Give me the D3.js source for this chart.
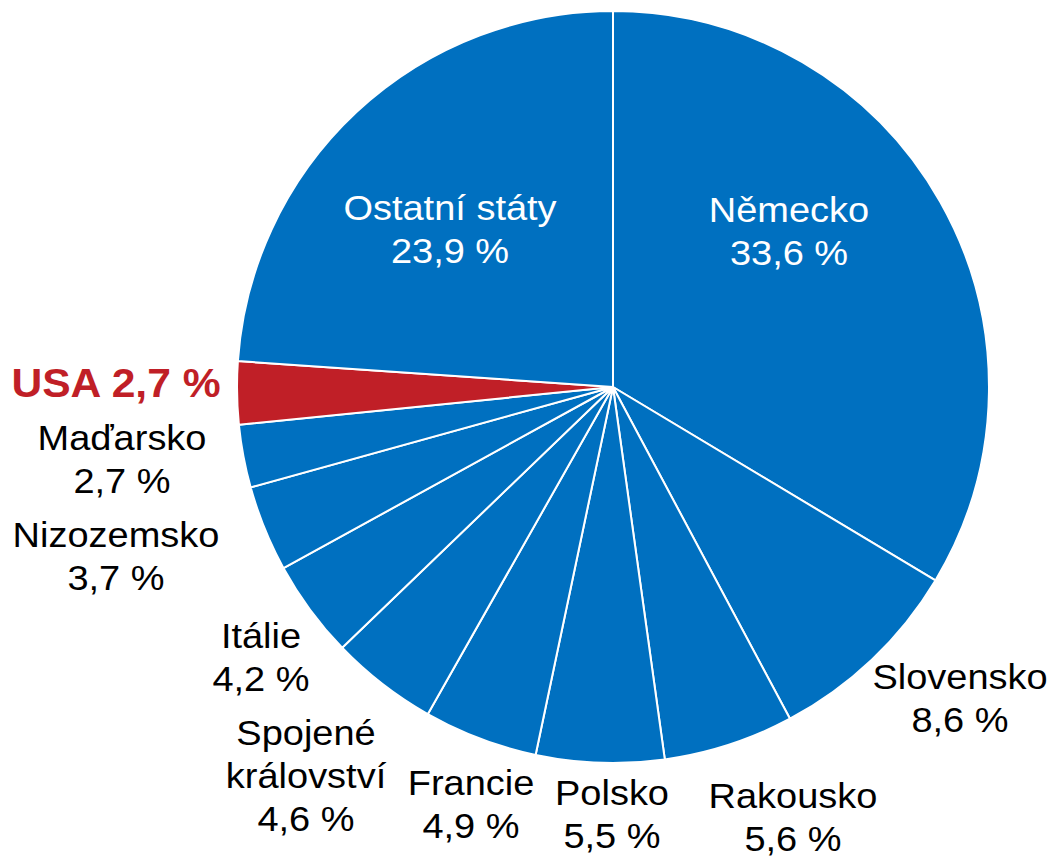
<!DOCTYPE html>
<html>
<head>
<meta charset="utf-8">
<script src="https://cdn.jsdelivr.net/npm/d3@7"></script>
<style>
  body { margin: 0; background: #fff; }
  svg { display: block; }
</style>
</head>
<body>
<script>
// shares of exports by country, clockwise from 12 o'clock
const countries = ["Německo", "Slovensko", "Rakousko", "Polsko", "Francie", "Spojené království",
  "Itálie", "Nizozemsko", "Maďarsko", "USA", "Ostatní státy"];
const shares = [33.6, 8.6, 5.6, 5.5, 4.9, 4.6, 4.2, 3.7, 2.7, 2.7, 23.9];
// how each label is broken into lines
const labelLines = [["Německo"], ["Slovensko"], ["Rakousko"], ["Polsko"], ["Francie"],
  ["Spojené", "království"], ["Itálie"], ["Nizozemsko"], ["Maďarsko"], ["USA"], ["Ostatní státy"]];

const width = 1053, height = 859;
const cx = 613, cy = 387, radius = 376;

// label anchor (centre of first baseline) relative to pie centre
const labelAt = [[176, -165], [347, 302], [180, 421], [-1, 418], [-142, 408], [-307, 358],
  [-352, 261], [-497, 160], [-491, 63], [-497, 10], [-163, -167]];

const blue = "#0070c0", red = "#c01f27";
const fmt = v => v.toFixed(1).replace(".", ",") + " %";

const data = countries.map((c, i) => ({ name: c, value: shares[i], i: i }));

const svg = d3.select("body").append("svg")
  .attr("width", width)
  .attr("height", height);

const g = svg.append("g").attr("transform", `translate(${cx},${cy})`);

const pie = d3.pie().sort(null).value(d => d.value);
const arc = d3.arc().innerRadius(0).outerRadius(radius);

g.selectAll("path")
  .data(pie(data))
  .enter().append("path")
  .attr("d", arc)
  .attr("fill", d => d.data.name === "USA" ? red : blue)
  .attr("stroke", "#fff")
  .attr("stroke-width", 2)
  .attr("stroke-linejoin", "round");

// labels (the original font runs a bit wider than Liberation Sans)
const labels = g.selectAll(".lbl")
  .data(data)
  .enter().append("text")
  .attr("class", "lbl")
  .attr("text-anchor", "middle")
  .style("font-family", "'Liberation Sans', Arial, sans-serif")
  .style("font-size", d => d.name === "USA" ? "40px" : "36px")
  .style("font-weight", d => d.name === "USA" ? "bold" : "normal")
  .attr("fill", d => d.name === "USA" ? red : (d.i === 0 || d.i === 10 ? "#fff" : "#000"))
  .attr("transform", d => `translate(${labelAt[d.i][0]},${labelAt[d.i][1]}) scale(${d.name === "USA" ? 1.065 : 1.055},1)`);

labels.each(function(d) {
  const t = d3.select(this);
  if (d.name === "USA") {
    t.append("tspan").attr("x", 0).attr("y", 0).text(d.name + " " + fmt(d.value));
    return;
  }
  const lines = labelLines[d.i].concat([fmt(d.value)]);
  lines.forEach((s, k) => {
    t.append("tspan").attr("x", 0).attr("y", k * 43).text(s);
  });
});
</script>
</body>
</html>
